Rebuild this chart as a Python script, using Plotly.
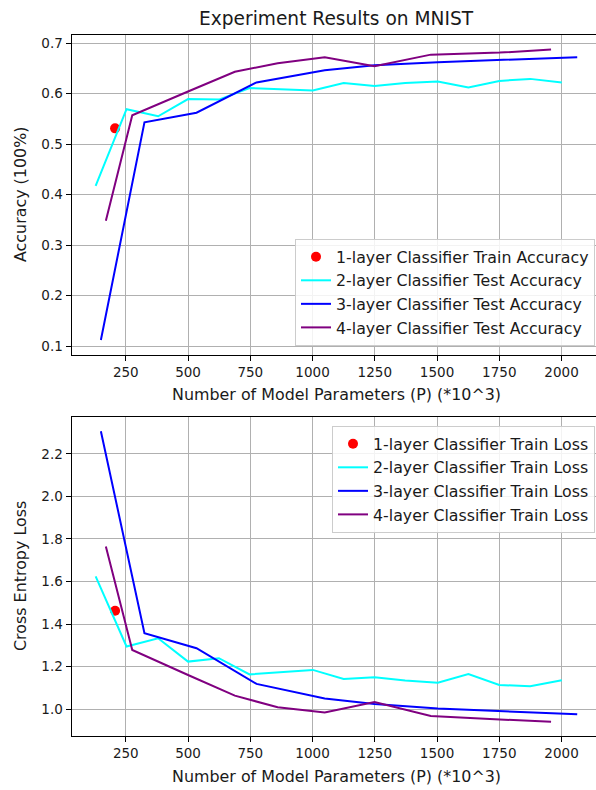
import plotly.graph_objects as go

# ---- data (parameters in thousands) ----
x_1layer = [207]
acc_1layer = [0.531]
loss_1layer = [1.462]

x_2layer = [129, 253, 380, 500, 624, 747, 1001, 1125, 1249, 1372, 1503, 1626, 1750, 1874, 2001]
acc_2layer = [0.417, 0.569, 0.555, 0.589, 0.588, 0.611, 0.606, 0.621, 0.615, 0.621, 0.624, 0.612, 0.625, 0.629, 0.622]
loss_2layer = [1.624, 1.294, 1.333, 1.223, 1.239, 1.163, 1.184, 1.141, 1.149, 1.134, 1.124, 1.165, 1.113, 1.107, 1.135]

x_3layer = [150, 325, 534, 775, 1049, 1249, 1503, 2063]
acc_3layer = [0.112, 0.543, 0.562, 0.622, 0.646, 0.656, 0.662, 0.672]
loss_3layer = [2.307, 1.357, 1.286, 1.118, 1.049, 1.024, 1.002, 0.975]

x_4layer = [170, 276, 500, 688, 860, 1049, 1249, 1475, 1752, 1958]
acc_4layer = [0.348, 0.557, 0.604, 0.643, 0.660, 0.672, 0.654, 0.677, 0.681, 0.687]
loss_4layer = [1.765, 1.278, 1.160, 1.063, 1.008, 0.984, 1.033, 0.967, 0.951, 0.940]

x_ticks = [250, 500, 750, 1000, 1250, 1500, 1750, 2000]
acc_ticks = [0.1, 0.2, 0.3, 0.4, 0.5, 0.6, 0.7]
loss_ticks = [1.0, 1.2, 1.4, 1.6, 1.8, 2.0, 2.2]

W, H = 596, 790
FONT = "DejaVu Sans"
TXT = "#1a1a1a"
TICK_SIZE = 13.5
LABEL_SIZE = 15.9
TITLE_SIZE = 18.6
LEGEND_SIZE = 15.8


def px_x(p):
    return p / W


def px_y(p):
    return 1 - p / H


fig = go.Figure()

line_w = 2


def add_panel(xa, ya, legend, y1, y2, y3, y4, kind):
    phase = "Test" if kind == "Accuracy" else "Train"
    fig.add_trace(go.Scatter(
        x=x_1layer, y=y1, mode="markers", xaxis=xa, yaxis=ya, legend=legend,
        marker=dict(color="red", size=10),
        name=f"1-layer Classifier Train {kind}"))
    fig.add_trace(go.Scatter(
        x=x_2layer, y=y2, mode="lines", xaxis=xa, yaxis=ya, legend=legend,
        line=dict(color="cyan", width=line_w),
        name=f"2-layer Classifier {phase} {kind}"))
    fig.add_trace(go.Scatter(
        x=x_3layer, y=y3, mode="lines", xaxis=xa, yaxis=ya, legend=legend,
        line=dict(color="blue", width=line_w),
        name=f"3-layer Classifier {phase} {kind}"))
    fig.add_trace(go.Scatter(
        x=x_4layer, y=y4, mode="lines", xaxis=xa, yaxis=ya, legend=legend,
        line=dict(color="purple", width=line_w),
        name=f"4-layer Classifier {phase} {kind}"))


add_panel("x", "y", "legend", acc_1layer, acc_2layer, acc_3layer, acc_4layer, "Accuracy")
add_panel("x2", "y2", "legend2", loss_1layer, loss_2layer, loss_3layer, loss_4layer, "Loss")

x_left = 71.5
x_range = [32, 32 + (W - x_left) / 0.249]

common_x = dict(
    range=x_range, tickvals=x_ticks, ticks="outside", ticklen=5, tickwidth=1,
    tickcolor="black", showline=True, linecolor="black", linewidth=1, mirror=True,
    showgrid=True, gridcolor="#b0b0b0", gridwidth=1, zeroline=False,
    tickfont=dict(family=FONT, size=TICK_SIZE, color=TXT),
)
common_y = dict(
    ticks="outside", ticklen=5, tickwidth=1, tickcolor="black",
    showline=True, linecolor="black", linewidth=1, mirror=False,
    showgrid=True, gridcolor="#b0b0b0", gridwidth=1, zeroline=False,
    tickfont=dict(family=FONT, size=TICK_SIZE, color=TXT),
)

top_box = (35.2, 354.6)
bot_box = (416.8, 736.2)

legend_common = dict(
    bgcolor="rgba(255,255,255,0.85)", bordercolor="#cccccc", borderwidth=1,
    font=dict(family=FONT, size=LEGEND_SIZE, color=TXT), xanchor="right",
    itemwidth=30,
)

fig.update_layout(
    width=W, height=H, margin=dict(l=0, r=0, t=0, b=0),
    paper_bgcolor="white", plot_bgcolor="white",
    showlegend=True,
    xaxis=dict(domain=[px_x(x_left), 1], anchor="y", **common_x),
    yaxis=dict(domain=[px_y(top_box[1]), px_y(top_box[0])], anchor="x",
               range=[0.083, 0.7155], tickvals=acc_ticks, tickformat=".1f", **common_y),
    xaxis2=dict(domain=[px_x(x_left), 1], anchor="y2", **common_x),
    yaxis2=dict(domain=[px_y(bot_box[1]), px_y(bot_box[0])], anchor="x2",
                range=[0.872, 2.375], tickvals=loss_ticks, tickformat=".1f", **common_y),
    legend=dict(x=px_x(595), y=px_y(346), yanchor="bottom", **legend_common),
    legend2=dict(x=px_x(595), y=px_y(426), yanchor="top", **legend_common),
)

ann = [
    dict(text="Experiment Results on MNIST", x=px_x(336.5), y=px_y(18),
         font=dict(family=FONT, size=TITLE_SIZE, color=TXT)),
    dict(text="Number of Model Parameters (P) (*10^3)", x=px_x(336.5), y=px_y(394),
         font=dict(family=FONT, size=LABEL_SIZE, color=TXT)),
    dict(text="Number of Model Parameters (P) (*10^3)", x=px_x(336.5), y=px_y(776),
         font=dict(family=FONT, size=LABEL_SIZE, color=TXT)),
    dict(text="Accuracy (100%)", x=px_x(20), y=px_y(195), textangle=-90,
         font=dict(family=FONT, size=LABEL_SIZE, color=TXT)),
    dict(text="Cross Entropy Loss", x=px_x(20), y=px_y(576), textangle=-90,
         font=dict(family=FONT, size=LABEL_SIZE, color=TXT)),
]
for a in ann:
    fig.add_annotation(xref="paper", yref="paper", showarrow=False,
                       xanchor="center", yanchor="middle", **a)

fig.write_html("out.html")
